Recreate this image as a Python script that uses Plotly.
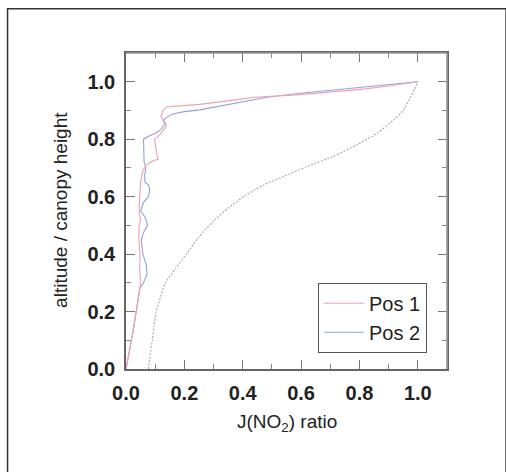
import plotly.graph_objects as go

# ---- data ----
pos1_x = [0.0, 0.012, 0.024, 0.035, 0.047, 0.05, 0.047, 0.048, 0.044, 0.045, 0.05, 0.045, 0.047,
          0.05, 0.058, 0.07, 0.092, 0.11, 0.105, 0.1, 0.098, 0.11, 0.12, 0.135, 0.139, 0.126, 0.12,
          0.127, 0.139, 0.173, 0.253, 0.368, 0.44, 0.598, 0.72, 0.82, 0.9, 1.0]
pos1_y = [0.0, 0.06, 0.13, 0.2, 0.28, 0.3, 0.35, 0.4, 0.45, 0.5, 0.52, 0.55, 0.6,
          0.65, 0.69, 0.71, 0.725, 0.73, 0.75, 0.78, 0.8, 0.81, 0.82, 0.84, 0.85, 0.87, 0.88,
          0.9, 0.912, 0.915, 0.921, 0.936, 0.946, 0.955, 0.965, 0.975, 0.985, 1.0]

pos2_x = [0.0, 0.012, 0.024, 0.035, 0.047, 0.06, 0.072, 0.07, 0.058, 0.052, 0.062, 0.074, 0.065,
          0.05, 0.06, 0.077, 0.081, 0.078, 0.065, 0.064, 0.068, 0.062, 0.06, 0.06, 0.081, 0.1,
          0.121, 0.133, 0.127, 0.139, 0.16, 0.2, 0.253, 0.368, 0.483, 0.598, 0.72, 0.828, 0.92, 1.0]
pos2_y = [0.0, 0.06, 0.13, 0.2, 0.28, 0.3, 0.33, 0.36, 0.4, 0.45, 0.48, 0.5, 0.53,
          0.55, 0.58, 0.6, 0.623, 0.64, 0.65, 0.675, 0.7, 0.72, 0.76, 0.8, 0.812, 0.82,
          0.835, 0.853, 0.865, 0.876, 0.888, 0.896, 0.902, 0.925, 0.946, 0.96, 0.972, 0.983, 0.992, 1.0]

model_x = [0.077, 0.083, 0.09, 0.096, 0.104, 0.118, 0.135, 0.17, 0.207, 0.25, 0.3, 0.35,
           0.403, 0.47, 0.54, 0.62, 0.71, 0.79, 0.86, 0.92, 0.95, 0.972, 0.99, 1.0]
model_y = [0.0, 0.05, 0.1, 0.15, 0.2, 0.25, 0.3, 0.35, 0.4, 0.46, 0.515, 0.56,
           0.6, 0.64, 0.67, 0.705, 0.74, 0.78, 0.82, 0.87, 0.9, 0.94, 0.975, 1.0]

series_names = ["Pos 1", "Pos 2"]
x_ticks = [0.0, 0.2, 0.4, 0.6, 0.8, 1.0]
y_ticks = [0.0, 0.2, 0.4, 0.6, 0.8, 1.0]
tick_text = ["0.0", "0.2", "0.4", "0.6", "0.8", "1.0"]

FONT = "Liberation Sans, Arial, Helvetica, sans-serif"

fig = go.Figure()
fig.add_trace(go.Scatter(x=model_x, y=model_y, mode="lines", showlegend=False,
                         line=dict(color="#a8a8a8", width=1.1, dash="2px,1.5px", shape="spline",
                                   smoothing=0.6)))
fig.add_trace(go.Scatter(x=pos2_x, y=pos2_y, mode="lines", name=series_names[1],
                         line=dict(color="#90a4d8", width=1.1)))
fig.add_trace(go.Scatter(x=pos1_x, y=pos1_y, mode="lines", name=series_names[0],
                         line=dict(color="#f2a0b0", width=1.1)))

axis_common = dict(
    range=[0, 1.1], showgrid=False, zeroline=False,
    showline=True, linecolor="#666666", linewidth=1.5, mirror="allticks",
    ticks="inside", ticklen=9, tickcolor="#777777", tickwidth=1,
    tickfont=dict(family=FONT, size=20, color="#222222", weight="bold"),
    minor=dict(dtick=0.1, ticks="inside", ticklen=5, tickcolor="#888888", tickwidth=1),
    ticklabelstandoff=5,
)

fig.update_xaxes(tickvals=x_ticks, ticktext=tick_text, **axis_common)
fig.update_yaxes(tickvals=y_ticks, ticktext=tick_text, **axis_common)

fig.update_layout(
    width=506, height=472,
    margin=dict(l=126, r=59, t=53, b=103, autoexpand=False),
    paper_bgcolor="white", plot_bgcolor="white",
    font=dict(family=FONT, color="#222222"),
    legend=dict(
        x=0.598, y=0.273, xanchor="left", yanchor="top",
        bordercolor="#555555", borderwidth=1, bgcolor="white",
        font=dict(family=FONT, size=20, color="#222222"),
        traceorder="reversed", itemwidth=40,
    ),
    annotations=[
        dict(text="J(NO<sub>2</sub>) ratio", xref="paper", yref="paper",
             x=0.5, y=-0.17, xanchor="center", yanchor="middle", showarrow=False,
             font=dict(family=FONT, size=19, color="#222222")),
        dict(text="altitude / canopy height", xref="paper", yref="paper",
             x=-0.202, y=0.504, xanchor="center", yanchor="middle", showarrow=False,
             textangle=-90, font=dict(family=FONT, size=19, color="#222222")),
    ],
    shapes=[
        dict(type="rect", xref="paper", yref="paper", x0=-0.369, x1=1.184, y0=-0.36, y1=1.140,
             line=dict(color="#333333", width=1.5), layer="below"),
        dict(type="line", xref="paper", yref="paper", x0=0, x1=1, y0=1, y1=1,
             line=dict(color="#999999", width=1.6), layer="above"),
        dict(type="line", xref="paper", yref="paper", x0=1, x1=1, y0=0, y1=1,
             line=dict(color="#999999", width=1.6), layer="above"),
    ],
)

fig.write_html(
    "out.html",
    config={"displayModeBar": False},
    post_script="document.body.style.margin='0px';document.body.style.overflow='hidden';",
)
